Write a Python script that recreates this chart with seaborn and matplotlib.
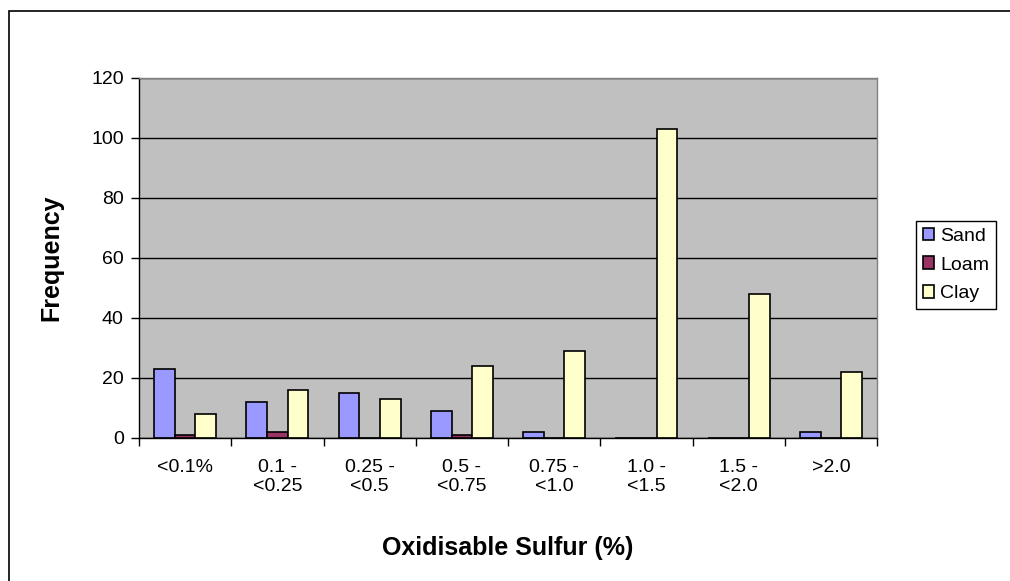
import numpy as np
import pandas as pd
import seaborn as sns
import matplotlib.pyplot as plt
from matplotlib.patches import Rectangle

# ------------------------------------------------------------
# Data
# ------------------------------------------------------------
ranges = ["<0.1%", "0.1 -\n<0.25", "0.25 -\n<0.5", "0.5 -\n<0.75",
          "0.75 -\n<1.0", "1.0 -\n<1.5", "1.5 -\n<2.0", ">2.0"]
soils = ["Sand", "Loam", "Clay"]
sand = [23, 12, 15, 9, 2, 0, 0, 2]
loam = [1, 2, 0, 1, 0, 0, 0, 0]
clay = [8, 16, 13, 24, 29, 103, 48, 22]
colors = ["#9999FF", "#993366", "#FFFFCC"]

df = pd.DataFrame({
    "range": ranges * 3,
    "soil": np.repeat(soils, len(ranges)),
    "freq": sand + loam + clay,
})

# ------------------------------------------------------------
# Plot
# ------------------------------------------------------------
sns.set_style("white")
plt.rcParams["font.family"] = ["Liberation Sans", "DejaVu Sans"]
plt.rcParams["text.color"] = "black"
plt.rcParams["axes.labelcolor"] = "black"
plt.rcParams["xtick.color"] = "black"
plt.rcParams["ytick.color"] = "black"

fig = plt.figure(figsize=(10.1, 5.81), dpi=100)
ax = fig.add_axes([139 / 1010, 1 - 438 / 581, (877 - 139) / 1010, (438 - 78) / 581])
ax.set_facecolor("#C0C0C0")

sns.barplot(data=df, x="range", y="freq", hue="soil", hue_order=soils,
            palette=colors, saturation=1, width=0.67, edgecolor="black",
            linewidth=1.2, ax=ax, legend=True)

ax.set_ylim(0, 120)
ax.set_yticks(range(0, 121, 20))
ax.set_xlim(-0.5, len(ranges) - 0.5)
ax.yaxis.grid(True, color="black", linewidth=1)
ax.set_axisbelow(True)

# tick marks sit between categories
ax.set_xticks(np.arange(-0.5, len(ranges)), minor=True)
ax.tick_params(axis="x", which="major", length=0, pad=15, labelsize=14)
ax.tick_params(axis="x", which="minor", length=6, width=1, direction="out")
ax.tick_params(axis="y", length=6, width=1, direction="out", labelsize=14, pad=5)
ax.tick_params(bottom=True, left=True, which="both")

for side in ["top", "right"]:
    ax.spines[side].set_color("#808080")
for side in ["left", "bottom"]:
    ax.spines[side].set_color("black")
for s in ax.spines.values():
    s.set_linewidth(1)

ax.set_xlabel("Oxidisable Sulfur (%)", fontsize=18, fontweight="bold", labelpad=29)
ax.set_ylabel("Frequency", fontsize=18, fontweight="bold", labelpad=20)

# legend on the right
handles, labels = ax.get_legend_handles_labels()
ax.get_legend().remove()
leg = fig.legend(handles, labels, loc="center", bbox_to_anchor=(956 / 1010, 1 - 265 / 581),
                 fontsize=14, frameon=True, fancybox=False, framealpha=1,
                 edgecolor="black", handlelength=0.6, handleheight=0.6,
                 handletextpad=0.3, labelspacing=0.6, borderpad=0.35)
leg.get_frame().set_linewidth(1)

# outer chart-area border
fig.patches.append(Rectangle((9 / 1010, -0.1), 1.2, 1.1 - 11 / 581, transform=fig.transFigure,
                             fill=False, edgecolor="black", linewidth=1.2))

plt.savefig("out.png", dpi=100)
